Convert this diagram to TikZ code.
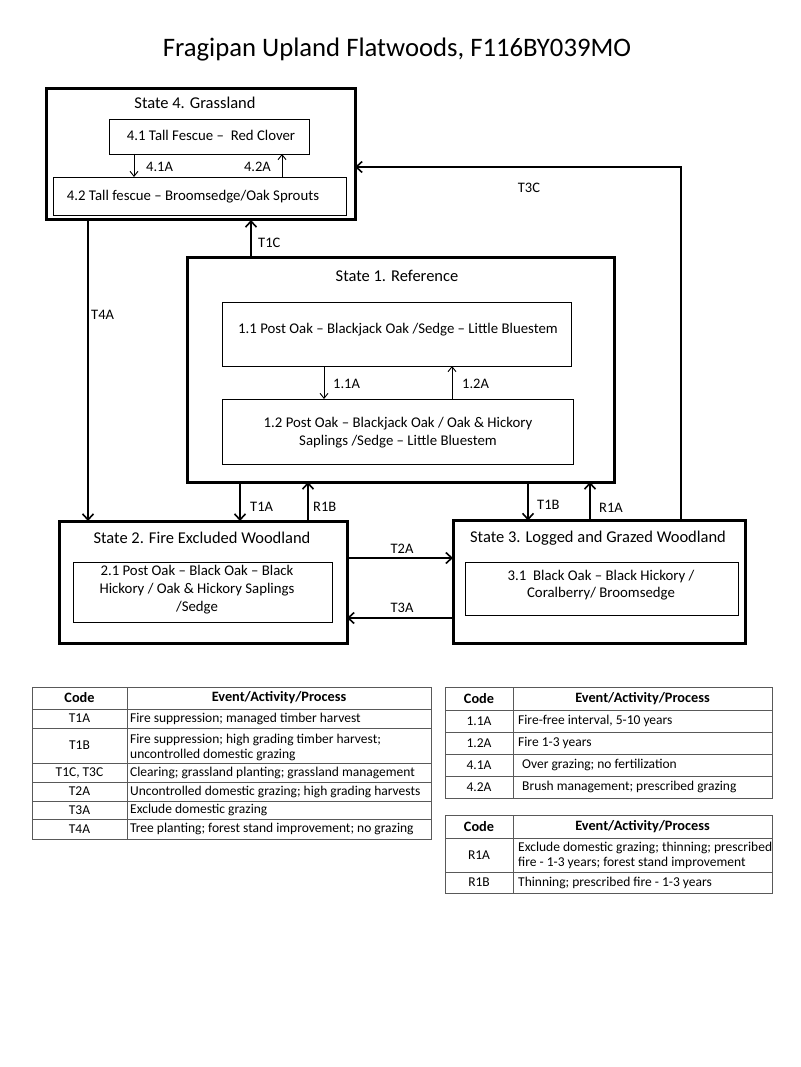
\documentclass[tikz,border=0pt]{standalone}
\usepackage{fontspec}
\setmainfont{Carlito}
\usetikzlibrary{arrows.meta}
\begin{document}
\begin{tikzpicture}[x=1pt,y=-1pt,
  statebox/.style={draw,line width=3pt,outer sep=0pt,inner sep=0pt},
  subbox/.style={draw,line width=0.9pt,outer sep=0pt,inner sep=0pt},
  stitle/.style={font=\fontsize{16.5}{19}\selectfont,inner sep=0pt},
  btxt/.style={font=\fontsize{14.8}{18}\selectfont,inner sep=0pt,align=center},
  lbl/.style={font=\fontsize{14.5}{16}\selectfont,inner sep=0pt},
  bigarr/.style={line width=2pt,-{Straight Barb[length=6pt,width=11pt,line width=1.6pt]}},
  smallarr/.style={line width=0.9pt,-{Straight Barb[length=5pt,width=8pt,line width=0.9pt]}},
  tline/.style={draw=black!65,line width=1pt},
  ttxt/.style={font=\fontsize{13.5}{15}\selectfont,inner sep=0pt,align=left},
  thead/.style={font=\bfseries\fontsize{14.3}{16}\selectfont,inner sep=0pt},
]
\useasboundingbox (0,0) rectangle (800,1067);
\fill[white] (0,0) rectangle (800,1067);

% title
\node[font=\fontsize{26.7}{30}\selectfont,inner sep=0pt] (title) at (397,50) {Fragipan Upland Flatwoods, F116BY039MO};

% State 4
\node[statebox,minimum width=309pt,minimum height=131pt] (s4) at (200.5,154.5) {};
\node[stitle] (s4t) at (195,103) {State 4. Grassland};
\node[subbox,minimum width=200pt,minimum height=35pt] (b41) at (209,136.5) {};
\node[btxt] (b41t) at (211,135) {4.1 Tall Fescue --\ \ Red Clover};
\node[subbox,minimum width=293pt,minimum height=38pt] (b42) at (199.5,196) {};
\node[btxt] (b42t) at (193,197) {4.2 Tall fescue -- Broomsedge/Oak Sprouts};
\draw[smallarr] (b41.south -| 134,0) -- (b42.north -| 134,0);
\draw[smallarr] (b42.north -| 282,0) -- (b41.south -| 282,0);
\node[lbl,anchor=west] (l41a) at (146,167) {4.1A};
\node[lbl,anchor=east] (l42a) at (271,167) {4.2A};

% State 1
\node[statebox,minimum width=427pt,minimum height=225pt] (s1) at (400.5,369.5) {};
\node[stitle] (s1t) at (397,276) {State 1. Reference};
\node[subbox,minimum width=349pt,minimum height=64pt] (b11) at (396.5,334) {};
\node[btxt] (b11t) at (398,330) {1.1 Post Oak -- Blackjack Oak /Sedge -- Little Bluestem};
\node[subbox,minimum width=351pt,minimum height=65pt] (b12) at (397.5,431.5) {};
\node[btxt] (b12t) at (398,433) {1.2 Post Oak -- Blackjack Oak / Oak \& Hickory\\Saplings /Sedge -- Little Bluestem};
\draw[smallarr] (b11.south -| 324,0) -- (b12.north -| 324,0);
\draw[smallarr] (b12.north -| 452,0) -- (b11.south -| 452,0);
\node[lbl,anchor=west] (l11a) at (333,384) {1.1A};
\node[lbl,anchor=west] (l12a) at (462,384) {1.2A};

% State 2
\node[statebox,minimum width=288pt,minimum height=122pt] (s2) at (203,582) {};
\node[stitle] (s2t) at (202,538) {State 2. Fire Excluded Woodland};
\node[subbox,minimum width=259pt,minimum height=60pt] (b21) at (202.5,592) {};
\node[btxt] (b21t) at (197,590) {2.1 Post Oak -- Black Oak -- Black\\Hickory / Oak \& Hickory Saplings\\/Sedge};

% State 3
\node[statebox,minimum width=292pt,minimum height=123pt] (s3) at (599,582) {};
\node[stitle] (s3t) at (598,538) {State 3. Logged and Grazed Woodland};
\node[subbox,minimum width=273pt,minimum height=53pt] (b31) at (601.5,588.5) {};
\node[btxt,font=\fontsize{14.8}{17}\selectfont] (b31t) at (601,585.5) {3.1\ \ Black Oak -- Black Hickory /\\Coralberry/ Broomsedge};

% transitions
\draw[bigarr] (s4.south -| 88,0) -- (s2.north -| 88,0);
\node[lbl,anchor=west] (lt4a) at (91,315) {T4A};
\draw[bigarr] (s1.north -| 251,0) -- (s4.south -| 251,0);
\node[lbl,anchor=west] (lt1c) at (258,243) {T1C};
\coordinate (c3c) at (681,167);
\draw[bigarr] (s3.north -| c3c) -- (c3c) -- (s4.east |- c3c);
\node[lbl] (lt3c) at (529,188) {T3C};
\draw[bigarr] (s1.south -| 240,0) -- (s2.north -| 240,0);
\node[lbl,anchor=west] (lt1a) at (250,507) {T1A};
\draw[bigarr] (s2.north -| 308,0) -- (s1.south -| 308,0);
\node[lbl,anchor=west] (lr1b) at (313,507) {R1B};
\draw[bigarr] (s1.south -| 528,0) -- (s3.north -| 528,0);
\node[lbl,anchor=west] (lt1b) at (537,505) {T1B};
\draw[bigarr] (s3.north -| 590,0) -- (s1.south -| 590,0);
\node[lbl,anchor=west] (lr1a) at (599,508) {R1A};
\draw[bigarr] (s2.east |- 0,558) -- (s3.west |- 0,558);
\node[lbl] (lt2a) at (402,549) {T2A};
\draw[bigarr] (s3.west |- 0,618) -- (s2.east |- 0,618);
\node[lbl] (lt3a) at (402,608) {T3A};

% Table 1
\draw[tline] (32,687) rectangle (431,839);
\draw[tline] (127,687) -- (127,839);
\foreach \yy in {709,728,763,782,801,819} \draw[tline] (32,\yy) -- (431,\yy);
\node[thead] (t1h1) at (79.5,698) {Code};
\node[thead] (t1h2) at (279,698) {Event/Activity/Process};
\node[ttxt] (t1c1) at (79.5,718.5) {T1A};
\node[ttxt,anchor=west] (t1d1) at (130,718.5) {Fire suppression; managed timber harvest};
\node[ttxt] (t1c2) at (79.5,745.5) {T1B};
\node[ttxt,anchor=west] (t1d2) at (130,747) {Fire suppression; high grading timber harvest;\\uncontrolled domestic grazing};
\node[ttxt] (t1c3) at (79.5,772.5) {T1C, T3C};
\node[ttxt,anchor=west] (t1d3) at (130,772.5) {Clearing; grassland planting; grassland management};
\node[ttxt] (t1c4) at (79.5,791.5) {T2A};
\node[ttxt,anchor=west] (t1d4) at (130,791.5) {Uncontrolled domestic grazing; high grading harvests};
\node[ttxt] (t1c5) at (79.5,810) {T3A};
\node[ttxt,anchor=west] (t1d5) at (130,810) {Exclude domestic grazing};
\node[ttxt] (t1c6) at (79.5,829) {T4A};
\node[ttxt,anchor=west] (t1d6) at (130,829) {Tree planting; forest stand improvement; no grazing};

% Table 2
\draw[tline] (445,687) rectangle (772,798);
\draw[tline] (513,687) -- (513,798);
\foreach \yy in {710,732,754,776} \draw[tline] (445,\yy) -- (772,\yy);
\node[thead] (t2h1) at (479,698.5) {Code};
\node[thead] (t2h2) at (642.5,698.5) {Event/Activity/Process};
\node[ttxt] (t2c1) at (479,721) {1.1A};
\node[ttxt,anchor=west] (t2d1) at (518,721) {Fire-free interval, 5-10 years};
\node[ttxt] (t2c2) at (479,743) {1.2A};
\node[ttxt,anchor=west] (t2d2) at (518,743) {Fire 1-3 years};
\node[ttxt] (t2c3) at (479,765) {4.1A};
\node[ttxt,anchor=west] (t2d3) at (522,765) {Over grazing; no fertilization};
\node[ttxt] (t2c4) at (479,787) {4.2A};
\node[ttxt,anchor=west] (t2d4) at (522,787) {Brush management; prescribed grazing};

% Table 3
\draw[tline] (445,815) rectangle (772,893);
\draw[tline] (513,815) -- (513,893);
\foreach \yy in {838,872} \draw[tline] (445,\yy) -- (772,\yy);
\node[thead] (t3h1) at (479,826.5) {Code};
\node[thead] (t3h2) at (642.5,826.5) {Event/Activity/Process};
\node[ttxt] (t3c1) at (479,855) {R1A};
\node[ttxt,anchor=west] (t3d1) at (518,855.5) {Exclude domestic grazing; thinning; prescribed\\fire - 1-3 years; forest stand improvement};
\node[ttxt] (t3c2) at (479,882.5) {R1B};
\node[ttxt,anchor=west] (t3d2) at (518,882.5) {Thinning; prescribed fire - 1-3 years};
\end{tikzpicture}
\end{document}
